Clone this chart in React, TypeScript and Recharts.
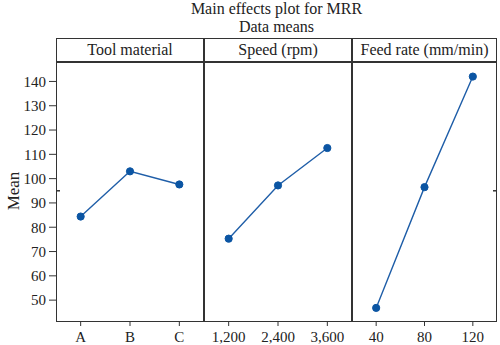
import React from 'react';
import { LineChart, Line, XAxis, YAxis, ReferenceLine } from 'recharts';

const toolLevels = ['A', 'B', 'C'];
const toolMeans = [84.4, 103.0, 97.6];
const speedLevels = ['1,200', '2,400', '3,600'];
const speedMeans = [75.3, 97.2, 112.6];
const feedLevels = ['40', '80', '120'];
const feedMeans = [46.8, 96.5, 142.0];
const yTicks = [50, 60, 70, 80, 90, 100, 110, 120, 130, 140];
const panelTitles = ['Tool material', 'Speed (rpm)', 'Feed rate (mm/min)'];

const grandMean = toolMeans.reduce((s, v) => s + v, 0) / toolMeans.length;

const FONT = '"Liberation Serif", "DejaVu Serif", serif';
const LINE = '#1f5ea8';
const DOT = '#0b55a3';
const FRAME = '#333';
const Y_DOMAIN: [number, number] = [41, 148];

const PLOT_TOP = 62;
const PLOT_H = 260;

const panels = [
  { left: 56, width: 148, levels: toolLevels, means: toolMeans },
  { left: 204, width: 148, levels: speedLevels, means: speedMeans },
  { left: 352, width: 145, levels: feedLevels, means: feedMeans },
];

const tickStyle = { fontSize: 15, fill: '#222', fontFamily: FONT };

const MeanMark = (side: 'left' | 'right') => (props: any) => {
  const { x1, y1, x2 } = props;
  if (side === 'left') {
    return <line x1={x1} y1={y1} x2={x1 + 4} y2={y1} stroke={FRAME} strokeWidth={1.5} />;
  }
  return <line x1={x2 - 4} y1={y1} x2={x2} y2={y1} stroke={FRAME} strokeWidth={1.5} />;
};

export default function App() {
  return (
    <div
      style={{
        position: 'absolute',
        left: 0,
        top: 0,
        width: 500,
        height: 345,
        background: '#fff',
        fontFamily: FONT,
        color: '#222',
      }}
    >
      <div
        style={{
          position: 'absolute',
          left: 56,
          top: 0,
          width: 441,
          textAlign: 'center',
          fontSize: 16,
          lineHeight: '17.5px',
        }}
      >
        <div>Main effects plot for MRR</div>
        <div>Data means</div>
      </div>

      <div
        style={{
          position: 'absolute',
          left: 14,
          top: 191,
          transform: 'translate(-50%, -50%) rotate(-90deg)',
          fontSize: 17,
          whiteSpace: 'nowrap',
        }}
      >
        Mean
      </div>

      {panels.map((p, i) => {
        const data = p.levels.map((lv, k) => ({ level: lv, mean: p.means[k] }));
        const first = i === 0;
        const last = i === panels.length - 1;
        const chartLeft = first ? 0 : p.left;
        const chartWidth = first ? p.left + p.width : p.width;
        const pad = p.width / 6;
        return (
          <React.Fragment key={i}>
            <div
              style={{
                position: 'absolute',
                left: p.left,
                top: 38,
                width: p.width,
                height: 24,
                boxSizing: 'border-box',
                border: `1.5px solid ${FRAME}`,
                textAlign: 'center',
                fontSize: 16,
                lineHeight: '22px',
                whiteSpace: 'nowrap',
              }}
            >
              {panelTitles[i]}
            </div>
            <div style={{ position: 'absolute', left: chartLeft, top: 0 }}>
              <LineChart
                width={chartWidth}
                height={345}
                data={data}
                margin={{ top: PLOT_TOP, right: 0, bottom: 0, left: 0 }}
              >
                <XAxis
                  dataKey="level"
                  axisLine={false}
                  tickLine={{ stroke: FRAME }}
                  tickSize={4}
                  tickMargin={5}
                  height={23}
                  interval={0}
                  padding={{ left: pad, right: pad }}
                  tick={tickStyle}
                />
                <YAxis
                  hide={!first}
                  width={first ? 56 : 0}
                  domain={Y_DOMAIN}
                  ticks={yTicks}
                  allowDataOverflow
                  axisLine={false}
                  tickLine={{ stroke: FRAME }}
                  tickSize={7}
                  tickMargin={3}
                  tick={tickStyle}
                />
                {(first || last) && (
                  <ReferenceLine
                    y={grandMean}
                    stroke={FRAME}
                    shape={MeanMark(first ? 'left' : 'right')}
                  />
                )}
                <Line
                  type="linear"
                  dataKey="mean"
                  stroke={LINE}
                  strokeWidth={1.4}
                  dot={{ r: 3.6, fill: DOT, stroke: DOT, strokeWidth: 1 }}
                  isAnimationActive={false}
                />
              </LineChart>
            </div>
            <div
              style={{
                position: 'absolute',
                left: p.left,
                top: PLOT_TOP,
                width: p.width,
                height: PLOT_H,
                boxSizing: 'border-box',
                border: `1.5px solid ${FRAME}`,
                pointerEvents: 'none',
              }}
            />
          </React.Fragment>
        );
      })}
    </div>
  );
}
